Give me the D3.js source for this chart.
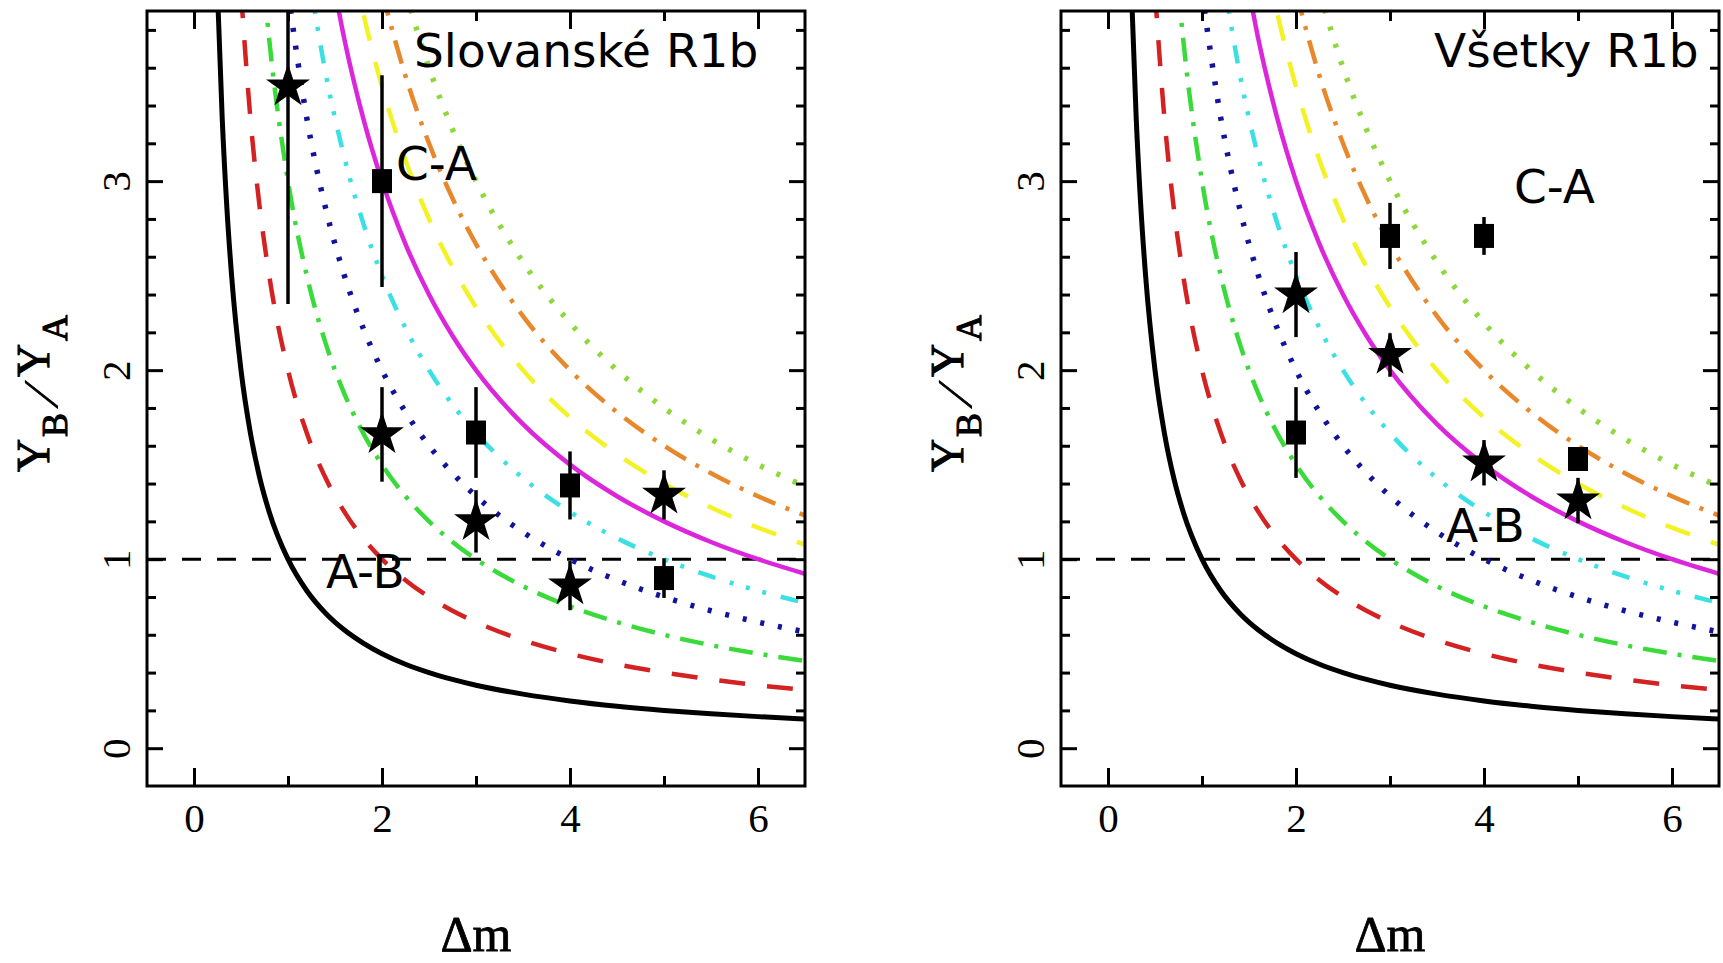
<!DOCTYPE html>
<html>
<head>
<meta charset="utf-8">
<script src="https://cdn.jsdelivr.net/npm/d3@7"></script>
<style>
  body { margin: 0; background: #fff; }
  svg { display: block; }
</style>
</head>
<body>
<svg id="chart" width="1723" height="963"></svg>
<script>
// ---- data -------------------------------------------------------------
// Δm sample positions shared by all model curves
const dmGrid = [0.25, 0.3, 0.35, 0.4, 0.5, 0.6, 0.7, 0.8, 1, 1.2, 1.4, 1.6, 1.8,
                2, 2.25, 2.5, 2.75, 3, 3.5, 4, 4.5, 5, 5.5, 6, 6.5];

// Y_B/Y_A of each model curve at dmGrid (null = above the plotted range)
const curve1 = [4.000, 3.333, 2.857, 2.500, 2.000, 1.667, 1.429, 1.250, 1.000, 0.833, 0.714, 0.625, 0.556,
                0.500, 0.444, 0.400, 0.364, 0.333, 0.286, 0.250, 0.222, 0.200, 0.182, 0.167, 0.154];
const curve2 = [null, null, null, null, 4.000, 3.333, 2.857, 2.500, 2.000, 1.667, 1.429, 1.250, 1.111,
                1.000, 0.889, 0.800, 0.727, 0.667, 0.571, 0.500, 0.444, 0.400, 0.364, 0.333, 0.308];
const curve3 = [null, null, null, null, null, null, 4.286, 3.750, 3.000, 2.500, 2.143, 1.875, 1.667,
                1.500, 1.333, 1.200, 1.091, 1.000, 0.857, 0.750, 0.667, 0.600, 0.545, 0.500, 0.462];
const curve4 = [null, null, null, null, null, null, null, null, 4.000, 3.333, 2.857, 2.500, 2.222,
                2.000, 1.778, 1.600, 1.455, 1.333, 1.143, 1.000, 0.889, 0.800, 0.727, 0.667, 0.615];
const curve5 = [null, null, null, null, null, null, null, null, null, 4.167, 3.571, 3.125, 2.778,
                2.500, 2.222, 2.000, 1.818, 1.667, 1.429, 1.250, 1.111, 1.000, 0.909, 0.833, 0.769];
const curve6 = [null, null, null, null, null, null, null, null, null, null, 4.286, 3.750, 3.333,
                3.000, 2.667, 2.400, 2.182, 2.000, 1.714, 1.500, 1.333, 1.200, 1.091, 1.000, 0.923];
const curve7 = [null, null, null, null, null, null, null, null, null, null, null, 4.375, 3.889,
                3.500, 3.111, 2.800, 2.545, 2.333, 2.000, 1.750, 1.556, 1.400, 1.273, 1.167, 1.077];
const curve8 = [null, null, null, null, null, null, null, null, null, null, null, null, null,
                4.000, 3.556, 3.200, 2.909, 2.667, 2.286, 2.000, 1.778, 1.600, 1.455, 1.333, 1.231];
const curve9 = [null, null, null, null, null, null, null, null, null, null, null, null, null,
                null, 4.000, 3.600, 3.273, 3.000, 2.571, 2.250, 2.000, 1.800, 1.636, 1.500, 1.385];

// measured ratios with their errors
const slovStars = [
  { dm: 1, ratio: 3.50, err: 1.15 },
  { dm: 2, ratio: 1.66, err: 0.25 },
  { dm: 3, ratio: 1.20, err: 0.165 },
  { dm: 4, ratio: 0.86, err: 0.13 },
  { dm: 5, ratio: 1.34, err: 0.13 }
];
const slovSquares = [
  { dm: 2, ratio: 3.00, err: 0.56 },
  { dm: 3, ratio: 1.67, err: 0.24 },
  { dm: 4, ratio: 1.39, err: 0.18 },
  { dm: 5, ratio: 0.90, err: 0.105 }
];
const allStars = [
  { dm: 2, ratio: 2.40, err: 0.225 },
  { dm: 3, ratio: 2.08, err: 0.115 },
  { dm: 4, ratio: 1.51, err: 0.12 },
  { dm: 5, ratio: 1.31, err: 0.12 }
];
const allSquares = [
  { dm: 2, ratio: 1.67, err: 0.24 },
  { dm: 3, ratio: 2.71, err: 0.175 },
  { dm: 4, ratio: 2.71, err: 0.10 },
  { dm: 5, ratio: 1.53, err: 0.05 }
];

// axis ticks
const xMajorTicks = [0, 2, 4, 6];
const xMinorTicks = [1, 3, 5];
const yMajorTicks = [0, 1, 2, 3];
const yMinorTicks = [0.2, 0.4, 0.6, 0.8, 1.2, 1.4, 1.6, 1.8, 2.2, 2.4, 2.6, 2.8, 3.2, 3.4, 3.6, 3.8];
const referenceRatio = 1;

// ---- styles -----------------------------------------------------------
const DASHED = "26,22";
const DASH_DOT = "24,11,4,11";
const DOTTED = "4,14";
const DASH_3DOT = "18,15,4,13,4,13,4,15";

const curveStyles = [
  { data: curve1, color: "#000000", dash: null,      width: 5 },
  { data: curve2, color: "#d42222", dash: DASHED,    width: 4.5 },
  { data: curve3, color: "#3ada3a", dash: DASH_DOT,  width: 4.5 },
  { data: curve4, color: "#12129a", dash: DOTTED,    width: 5.5 },
  { data: curve5, color: "#3ae0e4", dash: DASH_3DOT, width: 4.5 },
  { data: curve6, color: "#dc26dc", dash: null,      width: 4.5 },
  { data: curve7, color: "#f2f226", dash: DASHED,    width: 4.5 },
  { data: curve8, color: "#e8882c", dash: DASH_DOT,  width: 4.5 },
  { data: curve9, color: "#8ed83c", dash: DOTTED,    width: 5.5 }
];

const panelW = 658, panelH = 775, panelTop = 11;
const panels = [
  { id: "slov", x0: 147, title: "Slovanské R1b", titleX: 267, titleY: 56,
    caX: 249, caY: 169, abX: 179, abY: 577, stars: slovStars, squares: slovSquares },
  { id: "all", x0: 1061, title: "Všetky R1b", titleX: 373, titleY: 56,
    caX: 453, caY: 192, abX: 385, abY: 531, stars: allStars, squares: allSquares }
];

const serif = "'Liberation Serif', 'DejaVu Serif', serif";
const sans = "'DejaVu Sans', sans-serif";

// ---- drawing ----------------------------------------------------------
const svg = d3.select("#chart");
svg.append("rect").attr("width", 1723).attr("height", 963).attr("fill", "#fff");

panels.forEach(p => {
  const x = d3.scaleLinear().domain([-0.5, 6.5]).range([0, panelW]);
  const y = d3.scaleLinear().domain([-0.2, 3.9]).range([panelH, 0]);

  const g = svg.append("g").attr("transform", `translate(${p.x0},${panelTop})`);

  g.append("clipPath").attr("id", `clip-${p.id}`)
    .append("rect").attr("width", panelW).attr("height", panelH);

  const plot = g.append("g").attr("clip-path", `url(#clip-${p.id})`);

  // reference line Y_B/Y_A = 1
  plot.append("line")
    .attr("x1", x(-0.5)).attr("x2", x(6.5))
    .attr("y1", y(referenceRatio)).attr("y2", y(referenceRatio))
    .attr("stroke", "#000").attr("stroke-width", 3)
    .attr("stroke-dasharray", "19,16");

  // model curves
  const line = d3.line()
    .defined(d => d[1] != null)
    .x(d => x(d[0])).y(d => y(d[1]))
    .curve(d3.curveMonotoneX);

  curveStyles.forEach(c => {
    plot.append("path")
      .datum(dmGrid.map((dm, i) => [dm, c.data[i]]))
      .attr("d", line)
      .attr("fill", "none")
      .attr("stroke", c.color)
      .attr("stroke-width", c.width)
      .attr("stroke-dasharray", c.dash)
      .attr("stroke-linecap", "butt");
  });

  // error bars
  const bars = p.stars.concat(p.squares);
  plot.selectAll("line.err").data(bars).join("line")
    .attr("class", "err")
    .attr("x1", d => x(d.dm)).attr("x2", d => x(d.dm))
    .attr("y1", d => y(d.ratio - d.err)).attr("y2", d => y(d.ratio + d.err))
    .attr("stroke", "#000").attr("stroke-width", 3.5);

  // squares
  const sqW = 20, sqH = 24;
  plot.selectAll("rect.sq").data(p.squares).join("rect")
    .attr("class", "sq")
    .attr("x", d => x(d.dm) - sqW / 2).attr("y", d => y(d.ratio) - sqH / 2)
    .attr("width", sqW).attr("height", sqH)
    .attr("fill", "#000");

  // stars
  const star = d3.symbol(d3.symbolStar, 600);
  plot.selectAll("path.star").data(p.stars).join("path")
    .attr("class", "star")
    .attr("transform", d => `translate(${x(d.dm)},${y(d.ratio)})`)
    .attr("d", star)
    .attr("fill", "#000");

  // ticks on all four sides, pointing inward
  const tickStyle = sel => {
    sel.select(".domain").remove();
    sel.selectAll(".tick line").attr("stroke", "#000").attr("stroke-width", 3);
  };

  const bottom = g.append("g").attr("transform", `translate(0,${panelH})`)
    .call(d3.axisBottom(x).tickValues(xMajorTicks).tickSize(-18).tickFormat(d3.format("d")))
    .call(tickStyle);
  bottom.selectAll(".tick text")
    .attr("y", 46).attr("dy", 0)
    .attr("font-family", serif).attr("font-size", 41).attr("fill", "#000");
  g.append("g").attr("transform", `translate(0,${panelH})`)
    .call(d3.axisBottom(x).tickValues(xMinorTicks).tickSize(-10).tickFormat(""))
    .call(tickStyle);

  g.append("g")
    .call(d3.axisTop(x).tickValues(xMajorTicks).tickSize(-18).tickFormat(""))
    .call(tickStyle);
  g.append("g")
    .call(d3.axisTop(x).tickValues(xMinorTicks).tickSize(-10).tickFormat(""))
    .call(tickStyle);

  const left = g.append("g")
    .call(d3.axisLeft(y).tickValues(yMajorTicks).tickSize(-16).tickFormat(d3.format("d")))
    .call(tickStyle);
  left.selectAll(".tick text")
    .attr("x", 0).attr("dy", 0)
    .attr("transform", "translate(-17,0) rotate(-90)")
    .attr("text-anchor", "middle")
    .attr("font-family", serif).attr("font-size", 41).attr("fill", "#000");
  g.append("g")
    .call(d3.axisLeft(y).tickValues(yMinorTicks).tickSize(-9).tickFormat(""))
    .call(tickStyle);

  g.append("g").attr("transform", `translate(${panelW},0)`)
    .call(d3.axisRight(y).tickValues(yMajorTicks).tickSize(-16).tickFormat(""))
    .call(tickStyle);
  g.append("g").attr("transform", `translate(${panelW},0)`)
    .call(d3.axisRight(y).tickValues(yMinorTicks).tickSize(-9).tickFormat(""))
    .call(tickStyle);

  // frame
  g.append("rect")
    .attr("width", panelW).attr("height", panelH)
    .attr("fill", "none").attr("stroke", "#000").attr("stroke-width", 3);

  // panel annotations
  const note = (txt, tx, ty) => g.append("text")
    .attr("x", tx).attr("y", ty)
    .attr("font-family", sans).attr("font-size", 47).attr("fill", "#000")
    .text(txt);
  note(p.title, p.titleX, p.titleY);
  note("C-A", p.caX, p.caY);
  note("A-B", p.abX, p.abY);

  // axis titles
  g.append("text")
    .attr("x", panelW / 2).attr("y", 940)
    .attr("text-anchor", "middle")
    .attr("font-family", serif).attr("font-size", 50).attr("fill", "#000")
    .attr("stroke", "#000").attr("stroke-width", 0.8)
    .text("Δm");

  const yAxisTitle = "translate(-98,461) rotate(-90)";
  const yt = g.append("text")
    .attr("transform", yAxisTitle)
    .attr("font-family", serif).attr("fill", "#000")
    .attr("stroke", "#000").attr("stroke-width", 1);
  yt.append("tspan").attr("x", 0).attr("y", 0).attr("font-size", 46).text("Y");
  yt.append("tspan").attr("x", 35).attr("y", 18).attr("font-size", 36).text("B");
  yt.append("tspan").attr("x", 95).attr("y", 0).attr("font-size", 46).text("Y");
  yt.append("tspan").attr("x", 131).attr("y", 18).attr("font-size", 36).text("A");
  g.append("text")
    .attr("transform", `${yAxisTitle} translate(64,8) skewX(-24)`)
    .attr("font-family", serif).attr("font-size", 48).attr("fill", "#000")
    .attr("stroke", "#000").attr("stroke-width", 1)
    .text("/");
});
</script>
</body>
</html>
